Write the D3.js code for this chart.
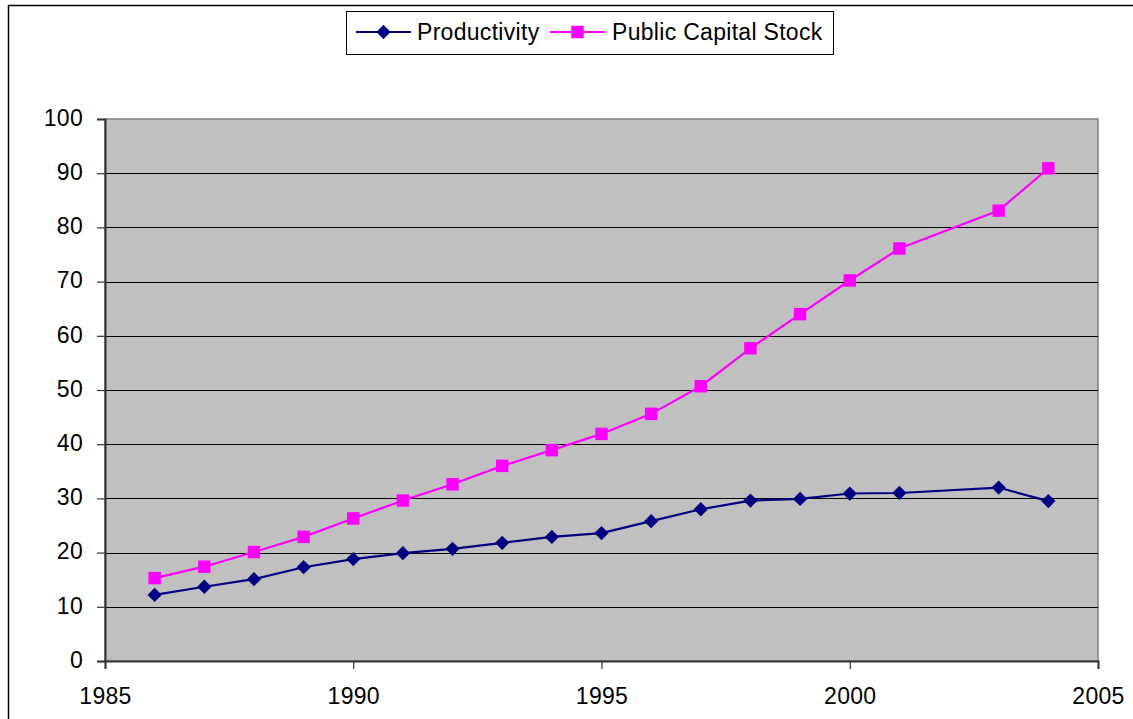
<!DOCTYPE html>
<html>
<head>
<meta charset="utf-8">
<script src="https://cdn.jsdelivr.net/npm/d3@7"></script>
<style>
  html, body { margin: 0; padding: 0; background: #fff; }
  svg { display: block; font-family: Arial, "Liberation Sans", sans-serif; }
</style>
</head>
<body>
<svg id="chart" width="1133" height="719"></svg>
<script>
const years = [1986, 1987, 1988, 1989, 1990, 1991, 1992, 1993, 1994, 1995, 1996, 1997, 1998, 1999, 2000, 2001, 2003, 2004];
const productivity = [12.2, 13.7, 15.1, 17.3, 18.8, 19.9, 20.7, 21.8, 22.9, 23.6, 25.8, 28.0, 29.6, 29.9, 30.9, 31.0, 32.0, 29.5];
const publicCapital = [15.3, 17.4, 20.1, 22.9, 26.3, 29.6, 32.6, 36.0, 38.9, 41.9, 45.6, 50.7, 57.7, 64.0, 70.2, 76.1, 83.1, 90.9];
const xTicks = [1985, 1990, 1995, 2000, 2005];
const yTicks = [0, 10, 20, 30, 40, 50, 60, 70, 80, 90, 100];
const seriesNames = ["Productivity", "Public Capital Stock"];

const svg = d3.select("#chart");
const plotL = 105, plotR = 1098, plotT = 119, plotB = 661;
const FONT = "23px";
const LS = "0.3px";

const x = d3.scaleLinear().domain([1985, 2005]).range([plotL, plotR]);
const y = d3.scaleLinear().domain([0, 100]).range([plotB, plotT]);

// outer chart border
svg.append("rect").attr("x", 8.5).attr("y", 5.5).attr("width", 1140).attr("height", 740)
  .attr("fill", "#fff").attr("stroke", "#000").attr("stroke-width", 1.5);

// plot area
svg.append("rect").attr("x", plotL).attr("y", plotT).attr("width", plotR - plotL).attr("height", plotB - plotT)
  .attr("fill", "#C0C0C0").attr("stroke", "#808080").attr("stroke-width", 1.5);

// gridlines
svg.append("g").selectAll("line").data(yTicks.filter(d => d > 0 && d < 100)).join("line")
  .attr("x1", plotL).attr("x2", plotR)
  .attr("y1", d => Math.round(y(d)) + 0.5).attr("y2", d => Math.round(y(d)) + 0.5)
  .attr("stroke", "#000").attr("stroke-width", 1);

// y axis
const yAxis = svg.append("g").attr("transform", `translate(${plotL},0)`)
  .call(d3.axisLeft(y).tickValues(yTicks).tickSize(8).tickPadding(14).tickFormat(d3.format("d")));
yAxis.select(".domain").attr("stroke", "#333").attr("stroke-width", 2);
yAxis.selectAll(".tick line").attr("stroke", "#333").attr("stroke-width", 1.2);
yAxis.selectAll(".tick text").attr("fill", "#000").style("font-size", FONT)
  .style("letter-spacing", LS).attr("dy", "0.27em").attr("font-family", "Arial, 'Liberation Sans', sans-serif");

// x axis
const xAxis = svg.append("g").attr("transform", `translate(0,${plotB})`)
  .call(d3.axisBottom(x).tickValues(xTicks).tickSize(8).tickPadding(19).tickFormat(d3.format("d")));
xAxis.select(".domain").attr("stroke", "#333").attr("stroke-width", 2);
xAxis.selectAll(".tick line").attr("stroke", "#333").attr("stroke-width", 1.2);
xAxis.selectAll(".tick text").attr("fill", "#000").style("font-size", FONT)
  .style("letter-spacing", LS).attr("font-family", "Arial, 'Liberation Sans', sans-serif");

const colors = ["#000080", "#FF00FF"];
const data = [productivity, publicCapital];
const line = d3.line().x((d, i) => x(years[i])).y(d => y(d));

const diamond = d3.symbol().type(d3.symbolDiamond2).size(130);
const square = d3.symbol().type(d3.symbolSquare).size(155);

data.forEach((vals, si) => {
  svg.append("path").datum(vals).attr("d", line)
    .attr("fill", "none").attr("stroke", colors[si]).attr("stroke-width", 2.2);
  svg.append("g").selectAll("path").data(vals).join("path")
    .attr("transform", (d, i) => `translate(${x(years[i])},${y(d)})`)
    .attr("d", si === 0 ? diamond : square)
    .attr("fill", colors[si]);
});

// legend
const lg = svg.append("g");
lg.append("rect").attr("x", 346.5).attr("y", 11.5).attr("width", 487).attr("height", 43)
  .attr("fill", "#fff").attr("stroke", "#000").attr("stroke-width", 1);
const legendItems = [
  { lx1: 356, lx2: 411, tx: 417, sym: diamond },
  { lx1: 550, lx2: 605, tx: 612, sym: square }
];
legendItems.forEach((it, i) => {
  lg.append("line").attr("x1", it.lx1).attr("x2", it.lx2).attr("y1", 32).attr("y2", 32)
    .attr("stroke", colors[i]).attr("stroke-width", 2);
  lg.append("path").attr("transform", `translate(${(it.lx1 + it.lx2) / 2},32)`)
    .attr("d", it.sym).attr("fill", colors[i]);
  lg.append("text").attr("x", it.tx).attr("y", 40).text(seriesNames[i])
    .style("font-size", FONT).style("letter-spacing", LS).attr("fill", "#000");
});
</script>
</body>
</html>
